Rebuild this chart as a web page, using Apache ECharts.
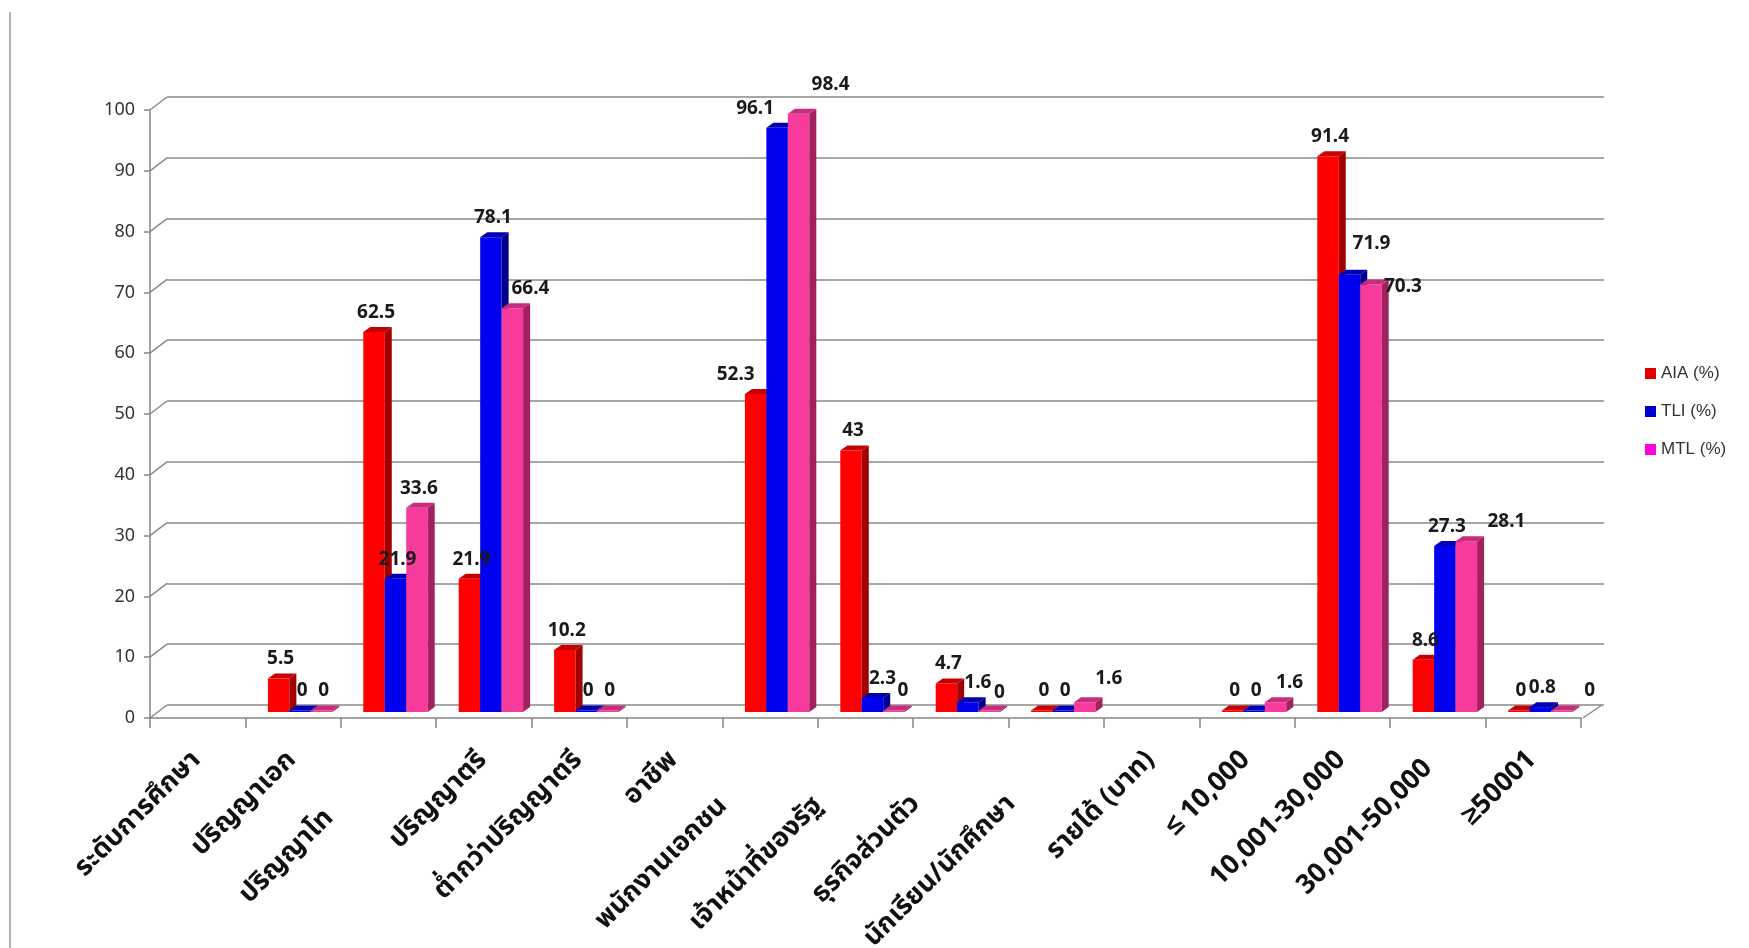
<!DOCTYPE html>
<html><head><meta charset="utf-8">
<script src="https://cdn.jsdelivr.net/npm/echarts@6/dist/echarts.min.js"></script>
<style>html,body{margin:0;padding:0;background:#fff}#c{width:1749px;height:948px}</style>
</head><body><div id="c"></div>
<script>
const categories = ['ระดับการศึกษา','ปริญญาเอก','ปริญญาโท','ปริญญาตรี','ต่ำกว่าปริญญาตรี','อาชีพ','พนักงานเอกชน','เจ้าหน้าที่ของรัฐ','ธุรกิจส่วนตัว','นักเรียน/นักศึกษา','รายได้ (บาท)','≤ 10,000','10,001-30,000','30,001-50,000','≥50001'];
const aia = [null,5.5,62.5,21.9,10.2,null,52.3,43,4.7,0,null,0,91.4,8.6,0];
const tli = [null,0,21.9,78.1,0,null,96.1,2.3,1.6,0,null,0,71.9,27.3,0.8];
const mtl = [null,0,33.6,66.4,0,null,98.4,0,0,1.6,null,1.6,70.3,28.1,0];
const seriesNames = ['AIA (%)','TLI (%)','MTL (%)'];
const yTicks = [0,10,20,30,40,50,60,70,80,90,100];

// style-only: stagger of some axis labels and nudges of some value labels (pixels)
const labelShift = [0,0,82,0,0,0,65,65,62,62,0,0,0,12,0];
const labelNudge = {'0:6':[-22,0],'1:6':[-24,0],'2:6':[30,-10],'2:3':[16,0],'1:12':[20,-12],'2:12':[30,22],'2:13':[38,0],'2:14':[26,0],'2:9':[22,-4],'1:8':[8,0],'2:8':[8,2],'2:7':[7,0],'1:7':[8,0],'2:11':[12,0]};

const chart = echarts.init(document.getElementById('c'));
const faces = [
  {front:'#ff0000', side:'#a00000', top:'#c80000', legend:'#e00000'},
  {front:'#0000f0', side:'#00008a', top:'#0000b5', legend:'#0000d0'},
  {front:'#f83a9c', side:'#a3205f', top:'#c82c7c', legend:'#ff00dd'}
];
const DX = 7, DY = -5, SX = 7, SY = -6;
const THAI = '"Noto Sans Thai","Loma","Garuda","Tlwg Typo","Noto Sans",sans-serif';

function barRender(s) {
  return function (params, api) {
    const v = api.value(1);
    if (v == null || isNaN(v)) return null;
    const idx = api.value(0);
    const base = api.coord([idx, 0]);
    const top = api.coord([idx, v]);
    const cw = api.size([1, 0])[0];
    const bw = cw * 0.225;
    const x0 = base[0] - 1.5 * bw + SX + s * bw;
    const yb = base[1] + SY;
    let yt = top[1] + SY;
    if (yb - yt < 1.5) yt = yb - 1.5;
    const f = faces[s];
    const nd = labelNudge[s + ':' + idx] || [0, 0];
    return {
      type: 'group',
      children: [
        {type: 'polygon', shape: {points: [[x0, yt], [x0 + bw, yt], [x0 + bw, yb], [x0, yb]]}, style: {fill: f.front}},
        {type: 'polygon', shape: {points: [[x0 + bw, yt], [x0 + bw + DX, yt + DY], [x0 + bw + DX, yb + DY], [x0 + bw, yb]]}, style: {fill: f.side}},
        {type: 'polygon', shape: {points: [[x0, yt], [x0 + bw, yt], [x0 + bw + DX, yt + DY], [x0 + DX, yt + DY]]}, style: {fill: f.top}},
        {type: 'text', z2: 100, style: {text: String(v), x: x0 + bw / 2 + 2 + nd[0], y: yt - 10 + nd[1], align: 'center', verticalAlign: 'bottom', fill: '#1a1a1a', font: 'bold 19px "Noto Sans", sans-serif'}}
      ]
    };
  };
}

function connectorRender(params, api) {
  const t = api.value(1);
  const y = api.coord([0, t])[1];
  const cs = params.coordSys;
  const ls = {stroke: '#8a8a8a', lineWidth: 1.5};
  const children = [{type: 'line', shape: {x1: cs.x, y1: y, x2: cs.x + 17, y2: y - 13}, style: ls}];
  if (t === 0) {
    const xr = cs.x + cs.width + 2;
    children.push({type: 'line', shape: {x1: xr, y1: y, x2: xr + 19, y2: y - 13}, style: ls});
  }
  return {type: 'group', children};
}

const seriesData = [aia, tli, mtl];
const series = seriesData.map((arr, s) => ({
  name: seriesNames[s],
  type: 'custom',
  xAxisIndex: 0, yAxisIndex: 0,
  renderItem: barRender(s),
  encode: {x: 0, y: 1},
  itemStyle: {color: faces[s].legend},
  data: arr.map((v, i) => [i, v == null ? '-' : v]),
  z: 3
}));
series.push({
  type: 'custom', xAxisIndex: 0, yAxisIndex: 0, silent: true,
  renderItem: connectorRender, encode: {x: 0, y: 1},
  data: yTicks.map(t => [0, t]), z: 1
});

chart.setOption({
  animation: false,
  backgroundColor: '#ffffff',
  grid: [
    {left: 150, right: 168, top: 110, bottom: 230, containLabel: false, outerBoundsMode: 'none'},
    {left: 167, right: 145, top: 97, bottom: 243, containLabel: false, outerBoundsMode: 'none'}
  ],
  xAxis: [
    {
      type: 'category', gridIndex: 0,
      data: categories.map((c, i) => ({value: c, textStyle: {padding: [16, labelShift[i], 0, 0]}})),
      axisLine: {lineStyle: {color: '#868686', width: 1.5}},
      axisTick: {show: true, interval: 0, length: 10, lineStyle: {color: '#868686', width: 1.5}},
      axisLabel: {rotate: 45, interval: 0, margin: 39, fontSize: 27, fontWeight: 'bold', color: '#111', fontFamily: THAI},
      splitLine: {show: false}
    },
    {type: 'value', gridIndex: 1, min: 0, max: 1, show: false}
  ],
  yAxis: [
    {
      type: 'value', gridIndex: 0, min: 0, max: 100, interval: 10,
      axisLine: {show: true, lineStyle: {color: '#868686', width: 1.5}},
      axisTick: {show: true, length: 6, lineStyle: {color: '#868686', width: 1.5}},
      axisLabel: {fontSize: 18, color: '#333', margin: 15, fontFamily: '"Noto Sans", sans-serif'},
      splitLine: {show: false}
    },
    {
      type: 'value', gridIndex: 1, min: 0, max: 100, interval: 10,
      axisLine: {show: false}, axisTick: {show: false}, axisLabel: {show: false},
      splitLine: {show: true, lineStyle: {color: '#8a8a8a', width: 1.5}}
    }
  ],
  legend: {
    orient: 'vertical', left: 1640, top: 360,
    itemWidth: 11, itemHeight: 11, itemGap: 21, icon: 'rect',
    data: seriesNames,
    textStyle: {fontSize: 17, color: '#333', fontFamily: '"Liberation Sans", sans-serif'}
  },
  graphic: [
    {type: 'line', shape: {x1: 10, y1: 12, x2: 10, y2: 948}, style: {stroke: '#9a9a9a', lineWidth: 1.5}}
  ],
  series: series
});
</script>
</body></html>
